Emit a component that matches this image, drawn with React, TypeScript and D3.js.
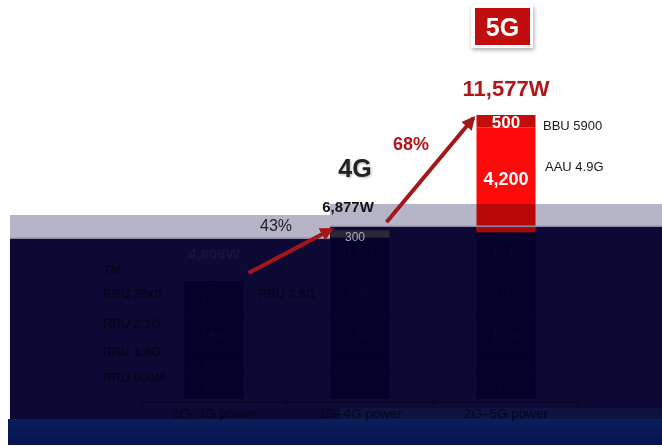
import React from "react";
import * as d3 from "d3";

const categories = ["2G–3G power", "2G–4G power", "2G–5G power"];
const components = ["RRU 900M", "RRU 1.8G", "RRU 2.1G", "RRU 2.6G", "BBU", "TM", "AAU 4.9G", "BBU 5900"];
const rru900 = [950, 950, 950];
const rru18 = [880, 880, 880];
const rru21 = [1500, 1500, 1500];
const rru26 = [0, 2000, 2000];
const bbu = [1078, 1247, 1247];
const tm = [400, 300, 300];
const aau49 = [0, 0, 4200];
const bbu5900 = [0, 0, 500];
const totals = [4808, 6877, 11577];
const totalLabels = ["4,808W", "6,877W", "11,577W"];
const generationLabels = ["4G", "5G"];
const growthLabels = ["43%", "68%"];
const rowLabels = ["TM", "BBU 39x0", "RRU 2.1G", "RRU 1.8G", "RRU 900M"];
const sideLabel = "RRU 2.6G";

const W = 662;
const H = 447;
const FONT = "'Liberation Sans', Arial, Helvetica, sans-serif";

export default function App() {
  const rows = categories.map((c, i) => ({
    cat: c,
    "RRU 900M": rru900[i],
    "RRU 1.8G": rru18[i],
    "RRU 2.1G": rru21[i],
    "RRU 2.6G": rru26[i],
    BBU: bbu[i],
    TM: tm[i],
    "AAU 4.9G": aau49[i],
    "BBU 5900": bbu5900[i],
  }));
  const stack = d3.stack<any>().keys(components)(rows);

  const x = d3.scaleBand().domain(categories).range([141, 579]).paddingInner(0.596).paddingOuter(0.298);
  const bw = x.bandwidth();
  const y = d3.scaleLinear().domain([0, 11577]).range([399, 115]);
  const cx = (c: string) => (x(c) as number) + bw / 2;

  const bandLeftTop = 215, bandLeftBot = 239, bandRightTop = 204, bandRightBot = 227, stepX = 330;

  const fmt = d3.format(",");

  const segFill = (key: string, ci: number) => {
    if (key === "AAU 4.9G") return "#ff0a0a";
    if (key === "BBU 5900") return "#c30c0c";
    if (key === "TM" && ci === 1) return "#2a2838";
    return "#04022a";
  };

  const c0 = categories[0], c1 = categories[1], c2 = categories[2];
  const a1 = { x1: (x(c0) as number) + bw + 5, y1: y(totals[0]) - 8, x2: (x(c1) as number) + 1, y2: y(totals[1]) - 1 };
  const a2 = { x1: (x(c1) as number) + bw - 3, y1: y(totals[1]) - 8, x2: (x(c2) as number) - 3, y2: y(totals[2]) + 3 };

  const axisY = 402;
  const ticks = [0, 1, 2].map((i) => (x(categories[i]) as number) - (x.step() - bw) / 2).concat([579]);
  const dark = "#07041e";

  return (
    <svg width={W} height={H} viewBox={`0 0 ${W} ${H}`} style={{ position: "absolute", left: 0, top: 0, fontFamily: FONT }}>
      <defs>
        <marker id="ah" viewBox="0 0 10 10" refX="8" refY="5" markerWidth="3.4" markerHeight="3.4" orient="auto">
          <path d="M0,0 L10,5 L0,10 z" fill="#a3161a" />
        </marker>
        <filter id="sh" x="-20%" y="-20%" width="150%" height="150%">
          <feDropShadow dx="1" dy="2" stdDeviation="2" floodColor="#888" floodOpacity="0.7" />
        </filter>
        <linearGradient id="lowband" x1="0" y1="0" x2="0" y2="1">
          <stop offset="0" stopColor="#0b1d5c" />
          <stop offset="1" stopColor="#051450" />
        </linearGradient>
      </defs>
      <rect x={0} y={0} width={W} height={H} fill="#ffffff" />

      {/* navy body */}
      <rect x={10} y={bandLeftBot} width={stepX - 10} height={419 - bandLeftBot} fill="#0e0934" />
      <rect x={stepX} y={bandRightBot} width={W - stepX} height={419 - bandRightBot} fill="#0e0934" />
      <rect x={340} y={408} width={W - 340} height={11} fill="#0d1440" />
      <rect x={8} y={419} width={W - 8} height={26} fill="url(#lowband)" />

      {/* dim row labels */}
      {rowLabels.map((t, i) => (
        <text key={t} x={103} y={[270, 294, 324, 352, 378][i]} dy="0.35em" fontSize={12.5} fontWeight="bold" fill={dark}>
          {t}
        </text>
      ))}
      <text x={258} y={294} dy="0.35em" fontSize={12.5} fontWeight="bold" fill={dark}>{sideLabel}</text>
      <text x={cx(c0)} y={254} dy="0.35em" textAnchor="middle" fontSize={15} fontWeight="bold" fill="#18133d">{totalLabels[0]}</text>

      {/* stacked bars */}
      {stack.map((layer) =>
        layer.map((d, ci) => {
          const h = y(d[0]) - y(d[1]);
          if (h <= 0) return null;
          return (
            <rect key={layer.key + ci} x={x(categories[ci])} y={y(d[1])} width={bw} height={h} fill={segFill(layer.key as string, ci)} />
          );
        })
      )}
      <rect x={x(c2)} y={bandRightBot} width={bw} height={y(totals[1]) - bandRightBot + 2} fill="#a80808" />

      {/* lavender overlay band (multiply) */}
      <g style={{ mixBlendMode: "multiply" }}>
        <rect x={10} y={bandLeftTop} width={stepX - 10} height={bandLeftBot - bandLeftTop} fill="#b6b4c7" />
        <rect x={stepX} y={bandRightTop} width={W - stepX} height={bandRightBot - bandRightTop} fill="#b6b4c7" />
      </g>
      <rect x={10} y={bandLeftBot - 1.5} width={stepX - 10} height={1.5} fill="#8d8aa8" />
      <rect x={stepX} y={bandRightBot - 1.5} width={W - stepX} height={1.5} fill="#8d8aa8" />

      {/* segment value labels */}
      {stack.map((layer) =>
        layer.map((d, ci) => {
          const v = d[1] - d[0];
          if (v <= 0) return null;
          const key = layer.key as string;
          const mid = (y(d[0]) + y(d[1])) / 2;
          if (key === "AAU 4.9G" || key === "BBU 5900") {
            return (
              <text key={"t" + key + ci} x={cx(categories[ci])} y={key === "BBU 5900" ? mid + 1 : mid} dy="0.35em" textAnchor="middle" fontSize={key === "BBU 5900" ? 17 : 18} fontWeight="bold" fill="#ffffff">
                {fmt(v)}
              </text>
            );
          }
          if (key === "TM" && ci === 1) {
            return (
              <text key={"t" + key + ci} x={cx(categories[ci]) - 5} y={mid + 3} dy="0.35em" textAnchor="middle" fontSize={12} fill="#a9a8b8">
                {fmt(v)}
              </text>
            );
          }
          return (
            <text key={"t" + key + ci} x={cx(categories[ci])} y={key === "TM" ? mid + 4 : mid} dy="0.35em" textAnchor="middle" fontSize={11} fill="#0b0931">
              {fmt(v)}
            </text>
          );
        })
      )}

      {/* axis */}
      <line x1={ticks[0]} x2={ticks[3]} y1={axisY} y2={axisY} stroke={dark} strokeWidth={1.2} />
      {ticks.map((t, i) => (
        <line key={i} x1={t} x2={t} y1={axisY} y2={axisY + 4} stroke={dark} strokeWidth={1.2} />
      ))}
      {categories.map((c) => (
        <text key={c} x={cx(c)} y={413} dy="0.35em" textAnchor="middle" fontSize={13.5} fill={dark}>
          {c}
        </text>
      ))}

      {/* right side labels */}
      <text x={543} y={125} dy="0.35em" fontSize={13} fill="#1a1a1a">{components[7]}</text>
      <text x={545} y={166} dy="0.35em" fontSize={13} fill="#1a1a1a">{components[6]}</text>

      {/* totals */}
      <text x={cx(c1) - 12} y={207} dy="0.35em" textAnchor="middle" fontSize={15} fontWeight="bold" fill="#111">{totalLabels[1]}</text>
      <text x={cx(c2)} y={88} dy="0.35em" textAnchor="middle" fontSize={22} fontWeight="bold" fill="#b01518">{totalLabels[2]}</text>

      {/* generation labels */}
      <text x={cx(c1) - 5} y={168} dy="0.35em" textAnchor="middle" fontSize={25} fontWeight="bold" fill="#222" style={{ filter: "drop-shadow(1px 1px 1px rgba(0,0,0,0.3))" }}>
        {generationLabels[0]}
      </text>
      <g filter="url(#sh)">
        <rect x={cx(c2) - 35} y={5} width={62} height={43} fill="#ffffff" />
      </g>
      <rect x={cx(c2) - 31} y={8} width={55} height={37} fill="#c00d0d" />
      <text x={cx(c2) - 3.5} y={27} dy="0.35em" textAnchor="middle" fontSize={25} fontWeight="bold" fill="#ffffff">{generationLabels[1]}</text>

      {/* arrows */}
      <line x1={a1.x1} y1={a1.y1} x2={a1.x2} y2={a1.y2} stroke="#a3161a" strokeWidth={4} markerEnd="url(#ah)" />
      <line x1={a2.x1} y1={a2.y1} x2={a2.x2} y2={a2.y2} stroke="#a3161a" strokeWidth={4} markerEnd="url(#ah)" />
      <text x={276} y={225} dy="0.35em" textAnchor="middle" fontSize={16} fill="#222">{growthLabels[0]}</text>
      <text x={411} y={144} dy="0.35em" textAnchor="middle" fontSize={18} fontWeight="bold" fill="#b01518">{growthLabels[1]}</text>
    </svg>
  );
}
